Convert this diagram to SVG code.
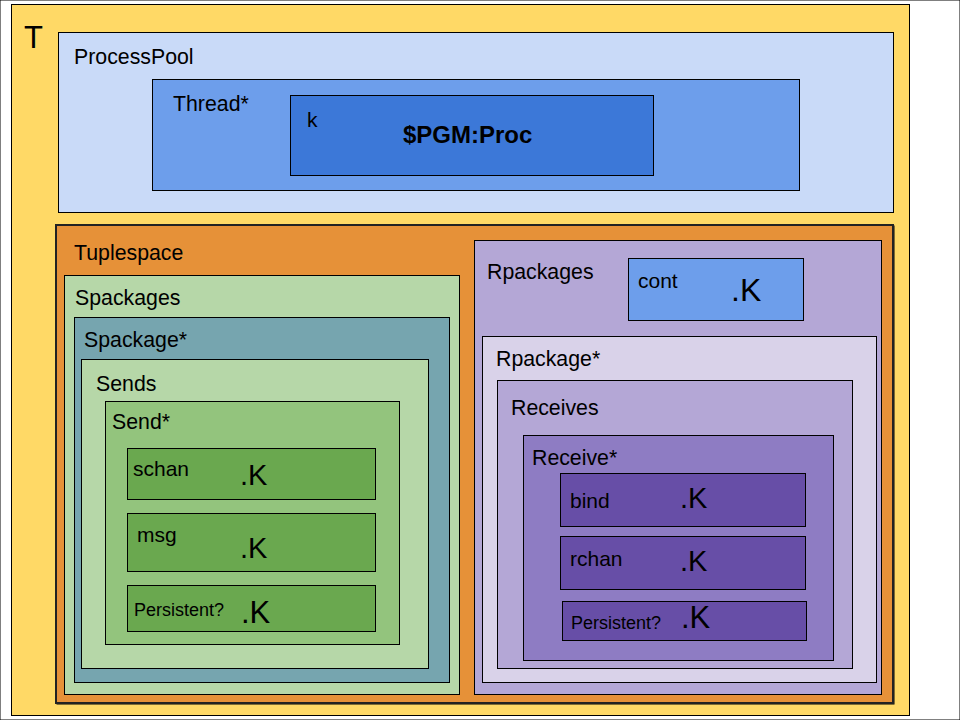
<svg xmlns="http://www.w3.org/2000/svg" width="960" height="720" viewBox="0 0 960 720">
<style>
rect{stroke:#000;stroke-width:1}
text{font-family:"Liberation Sans",Arial,sans-serif;fill:#000}
.lbl{font-size:21.3px}
.fld{font-size:21px}
.k{font-size:29px}
.pk{font-size:31px}
.ps{font-size:18px}
</style>
<rect width="960" height="720" fill="#fff" stroke="none"/>
<g id="T">
<rect x="11.5" y="4.5" width="898" height="711" fill="#ffd966"/>
<text x="24" y="48" font-size="31">T</text>
</g>
<g id="ProcessPool">
<rect x="58.5" y="32.5" width="835" height="180" fill="#c9daf8"/>
<text class="lbl" x="74" y="64">ProcessPool</text>
</g>
<g id="Thread">
<rect x="152.5" y="79.5" width="647" height="111" fill="#6d9eeb"/>
<text class="lbl" x="173" y="111">Thread*</text>
</g>
<g id="k">
<rect x="290.5" y="95.5" width="363" height="80" fill="#3c78d8"/>
<text class="fld" x="307" y="127">k</text>
<text x="403" y="143" font-size="24" font-weight="bold">$PGM:Proc</text>
</g>
<g id="Tuplespace">
<rect x="57" y="226" width="837" height="478" fill="#444" stroke="none"/>
<rect x="56" y="225" width="837" height="478" fill="#e69138" style="stroke:#222;stroke-width:2"/>
<text class="lbl" x="74" y="260">Tuplespace</text>
</g>
<g id="Spackages">
<rect x="64.5" y="275.5" width="395" height="419" fill="#b6d7a8"/>
<text class="lbl" x="75" y="305">Spackages</text>
</g>
<g id="Spackage">
<rect x="74.5" y="317.5" width="375" height="365" fill="#76a5af"/>
<text class="lbl" x="84" y="347">Spackage*</text>
</g>
<g id="Sends">
<rect x="81.5" y="359.5" width="347" height="309" fill="#b6d7a8"/>
<text class="lbl" x="96" y="391">Sends</text>
</g>
<g id="Send">
<rect x="105.5" y="401.5" width="294" height="243" fill="#93c47d"/>
<text class="lbl" x="112" y="429">Send*</text>
</g>
<g id="schan">
<rect x="127.5" y="448.5" width="248" height="51" fill="#6aa84f"/>
<text class="fld" x="133" y="476">schan</text>
<text class="k" x="240" y="485">.K</text>
</g>
<g id="msg">
<rect x="127.5" y="513.5" width="248" height="58" fill="#6aa84f"/>
<text class="fld" x="137" y="542">msg</text>
<text class="k" x="240" y="558">.K</text>
</g>
<g id="sPersistent">
<rect x="127.5" y="585.5" width="248" height="46" fill="#6aa84f"/>
<text class="ps" x="134" y="616">Persistent?</text>
<text class="pk" x="241" y="623">.K</text>
</g>
<g id="Rpackages">
<rect x="474.5" y="240.5" width="407" height="454" fill="#b4a7d6"/>
<text class="lbl" x="487" y="279">Rpackages</text>
</g>
<g id="cont">
<rect x="628.5" y="258.5" width="175" height="62" fill="#6d9eeb"/>
<text class="fld" x="638" y="288">cont</text>
<text x="731" y="301" font-size="32">.K</text>
</g>
<g id="Rpackage">
<rect x="482.5" y="336.5" width="394" height="346" fill="#d9d2e9"/>
<text class="lbl" x="496" y="366">Rpackage*</text>
</g>
<g id="Receives">
<rect x="497.5" y="380.5" width="355" height="288" fill="#b4a7d6"/>
<text class="lbl" x="511" y="415">Receives</text>
</g>
<g id="Receive">
<rect x="523.5" y="435.5" width="310" height="225" fill="#8e7cc3"/>
<text class="lbl" x="532" y="465">Receive*</text>
</g>
<g id="bind">
<rect x="560.5" y="473.5" width="245" height="53" fill="#674ea7"/>
<text class="fld" x="570" y="508">bind</text>
<text class="k" x="680" y="508">.K</text>
</g>
<g id="rchan">
<rect x="560.5" y="536.5" width="245" height="53" fill="#674ea7"/>
<text class="fld" x="570" y="566">rchan</text>
<text class="k" x="680" y="571">.K</text>
</g>
<g id="rPersistent">
<rect x="562.5" y="601.5" width="244" height="39" fill="#674ea7"/>
<text class="ps" x="571" y="629">Persistent?</text>
<text class="pk" x="681" y="628">.K</text>
</g>
<g id="connectors"></g>
</svg>
